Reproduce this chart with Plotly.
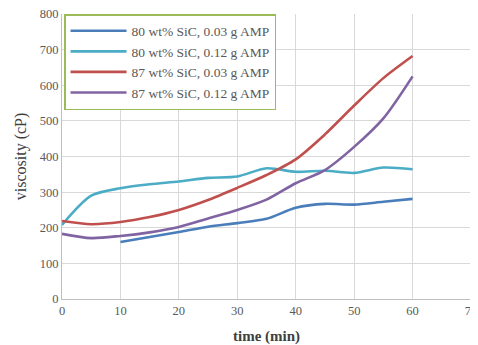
import plotly.graph_objects as go

time = [0, 5, 10, 15, 20, 25, 30, 35, 40, 45, 50, 55, 60]
time_b = [10, 15, 20, 25, 30, 35, 40, 45, 50, 55, 60]

v_80_003 = [160, 174, 188, 203, 213, 225, 256, 267, 265, 273, 281]
v_80_012 = [208, 290, 311, 322, 330, 340, 344, 367, 357, 360, 354, 369, 364]
v_87_003 = [219, 210, 216, 230, 250, 278, 312, 348, 392, 462, 543, 620, 682]
v_87_012 = [183, 171, 177, 187, 202, 226, 250, 279, 325, 362, 427, 507, 625]

names = ["80 wt% SiC, 0.03 g AMP", "80 wt% SiC, 0.12 g AMP",
         "87 wt% SiC, 0.03 g AMP", "87 wt% SiC, 0.12 g AMP"]
colors = ["#4a7ebb", "#4bacc6", "#c0504d", "#8064a2"]

xticks = [0, 10, 20, 30, 40, 50, 60, 70]
yticks = [0, 100, 200, 300, 400, 500, 600, 700, 800]

fig = go.Figure()
series = [(time_b, v_80_003), (time, v_80_012), (time, v_87_003), (time, v_87_012)]
for i, ((xs, ys), nm, c) in enumerate(zip(series, names, colors)):
    fig.add_trace(go.Scatter(x=xs, y=ys, name=nm, mode="lines",
                             line=dict(color=c, width=2.6, shape="spline", smoothing=0.8),
                             legendgroup=f"g{i}"))

font = "Liberation Serif, Times New Roman, serif"
fig.update_layout(
    width=470, height=337,
    margin=dict(l=54, r=7, t=6, b=46, autoexpand=False),
    paper_bgcolor="white", plot_bgcolor="white",
    font=dict(family=font, color="#595959", size=12.5),
    showlegend=True,
    legend=dict(x=0.005, y=1, xanchor="left", yanchor="top",
                bordercolor="#9bbb59", borderwidth=1.5, bgcolor="white",
                font=dict(family=font, size=13.5, color="#595959"),
                tracegroupgap=3, traceorder="normal", itemwidth=56),
    xaxis=dict(range=[0, 70], tickvals=xticks, showgrid=True, gridcolor="#d9d9d9",
               gridwidth=1, zeroline=False, showline=True, linecolor="#bfbfbf",
               linewidth=1, ticks="", automargin=False, ticklabeloverflow="allow",
               tickfont=dict(family=font, size=12.5, color="#595959"),
               title=dict(text="<b>time (min)</b>",
                          font=dict(family=font, size=15, color="#404040"),
                          standoff=15)),
    yaxis=dict(range=[0, 800], tickvals=yticks, showgrid=True, gridcolor="#d9d9d9",
               gridwidth=1, zeroline=False, showline=True, linecolor="#bfbfbf",
               linewidth=1, ticks="", automargin=False, ticklabeloverflow="allow",
               tickfont=dict(family=font, size=12.5, color="#595959"),
               title=dict(text="viscosity (cP)",
                          font=dict(family=font, size=16, color="#404040"),
                          standoff=9)),
)

fig.write_html("out.html")
